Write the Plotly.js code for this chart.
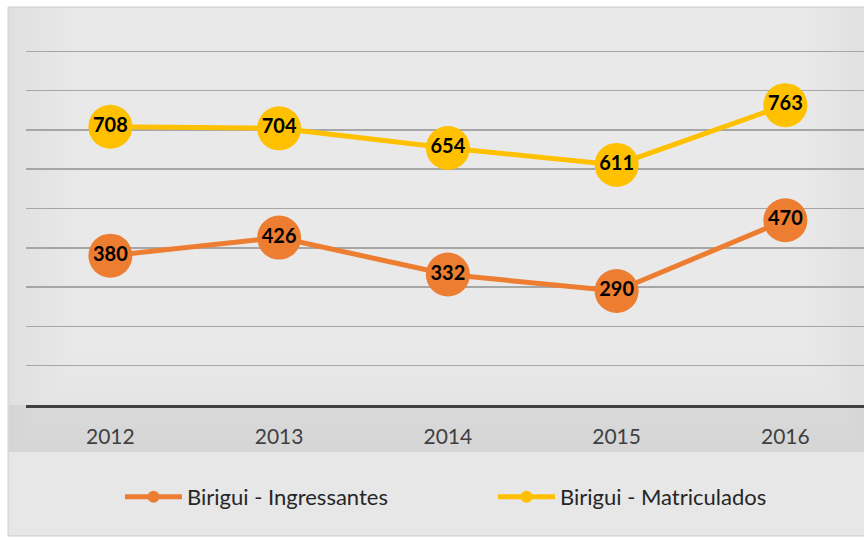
<!DOCTYPE html>
<html>
<head>
<meta charset="utf-8">
<script src="https://cdn.plot.ly/plotly-3.0.1.min.js"></script>
<style>html,body{margin:0;padding:0;background:#fff;}#chart{width:864px;height:538px;}</style>
</head>
<body>
<div id="chart"></div>
<script>
// ---- data ----
const years = ['2012', '2013', '2014', '2015', '2016'];
const ingressantes = [380, 426, 332, 290, 470];
const matriculados = [708, 704, 654, 611, 763];
const seriesNames = ['Birigui - Ingressantes', 'Birigui - Matriculados'];

// ---- layout geometry (pixels) ----
const W = 864, H = 538;
const mL = 26, mR = 0, mT = 12, mB = 133;
const plotW = W - mL - mR, plotH = H - mT - mB;
const px = v => (v - mL) / plotW;          // pixel x -> paper x
const py = v => (H - mB - v) / plotH;       // pixel y -> paper y

const orange = '#ED7D31', gold = '#FFC000';
const FONT = 'Lato, "Open Sans", sans-serif';

function series(vals, name, color, legendId) {
  return {
    type: 'scatter', mode: 'lines+markers+text',
    x: years, y: vals, name: name, legend: legendId,
    line: {color: color, width: 5},
    marker: {color: color, size: 44},
    text: vals.map(String), textposition: 'middle center',
    textfont: {family: FONT, size: 20, color: '#000', weight: 'bold'},
    cliponaxis: false, hoverinfo: 'skip'
  };
}

const traces = [
  series(ingressantes, seriesNames[0], orange, 'legend'),
  series(matriculados, seriesNames[1], gold, 'legend2')
];

// background shapes (chart area with soft gradient)
const shapes = [];
const rect = (x0, y0, x1, y1, fill, extra) => Object.assign({
  type: 'rect', xref: 'paper', yref: 'paper', layer: 'below',
  x0: px(x0), x1: px(x1), y0: py(y1), y1: py(y0),
  fillcolor: fill, line: {width: 0}
}, extra || {});
shapes.push(rect(8, 7, 870, 536, '#e0e0e0', {line: {color: '#d0d0d0', width: 1}}));
// soft lightening toward the top centre
const steps = 30;
for (let i = 0; i < steps; i++) {
  const f = i / steps;
  shapes.push(rect(15 + 230 * f, 8, 866 - 230 * f, 452 - 370 * f, 'rgba(255,255,255,0.045)'));
}
// tick label band and legend band
shapes.push(rect(9, 405, 870, 452, 'rgba(150,150,150,0.14)'));
shapes.push(rect(9, 452, 870, 535, 'rgba(255,255,255,0.22)'));

const legendBase = {
  orientation: 'h', xanchor: 'left', y: py(497), yanchor: 'middle',
  font: {family: FONT, size: 22, color: '#262626'},
  bgcolor: 'rgba(0,0,0,0)', itemwidth: 57, itemsizing: 'constant'
};

const layout = {
  width: W, height: H,
  margin: {l: mL, r: mR, t: mT, b: mB, pad: 0},
  paper_bgcolor: '#ffffff', plot_bgcolor: 'rgba(0,0,0,0)',
  font: {family: FONT, color: '#404040'},
  showlegend: true,
  xaxis: {
    type: 'category', range: [-0.5, 4.466],
    showgrid: false, zeroline: false,
    showline: true, linecolor: '#404040', linewidth: 3,
    ticks: 'outside', ticklen: 11, tickcolor: 'rgba(0,0,0,0)',
    tickfont: {family: FONT, size: 21, color: '#404040'},
    fixedrange: true
  },
  yaxis: {
    range: [0, 1000], tickvals: [100, 200, 300, 400, 500, 600, 700, 800, 900],
    showticklabels: false, showgrid: true, gridcolor: '#a6a6a6', gridwidth: 1.5,
    zeroline: false, showline: false, fixedrange: true
  },
  legend: Object.assign({}, legendBase, {x: px(120)}),
  legend2: Object.assign({}, legendBase, {x: px(493)}),
  shapes: shapes
};

Plotly.newPlot('chart', traces, layout, {displayModeBar: false, staticPlot: true});
</script>
</body>
</html>
